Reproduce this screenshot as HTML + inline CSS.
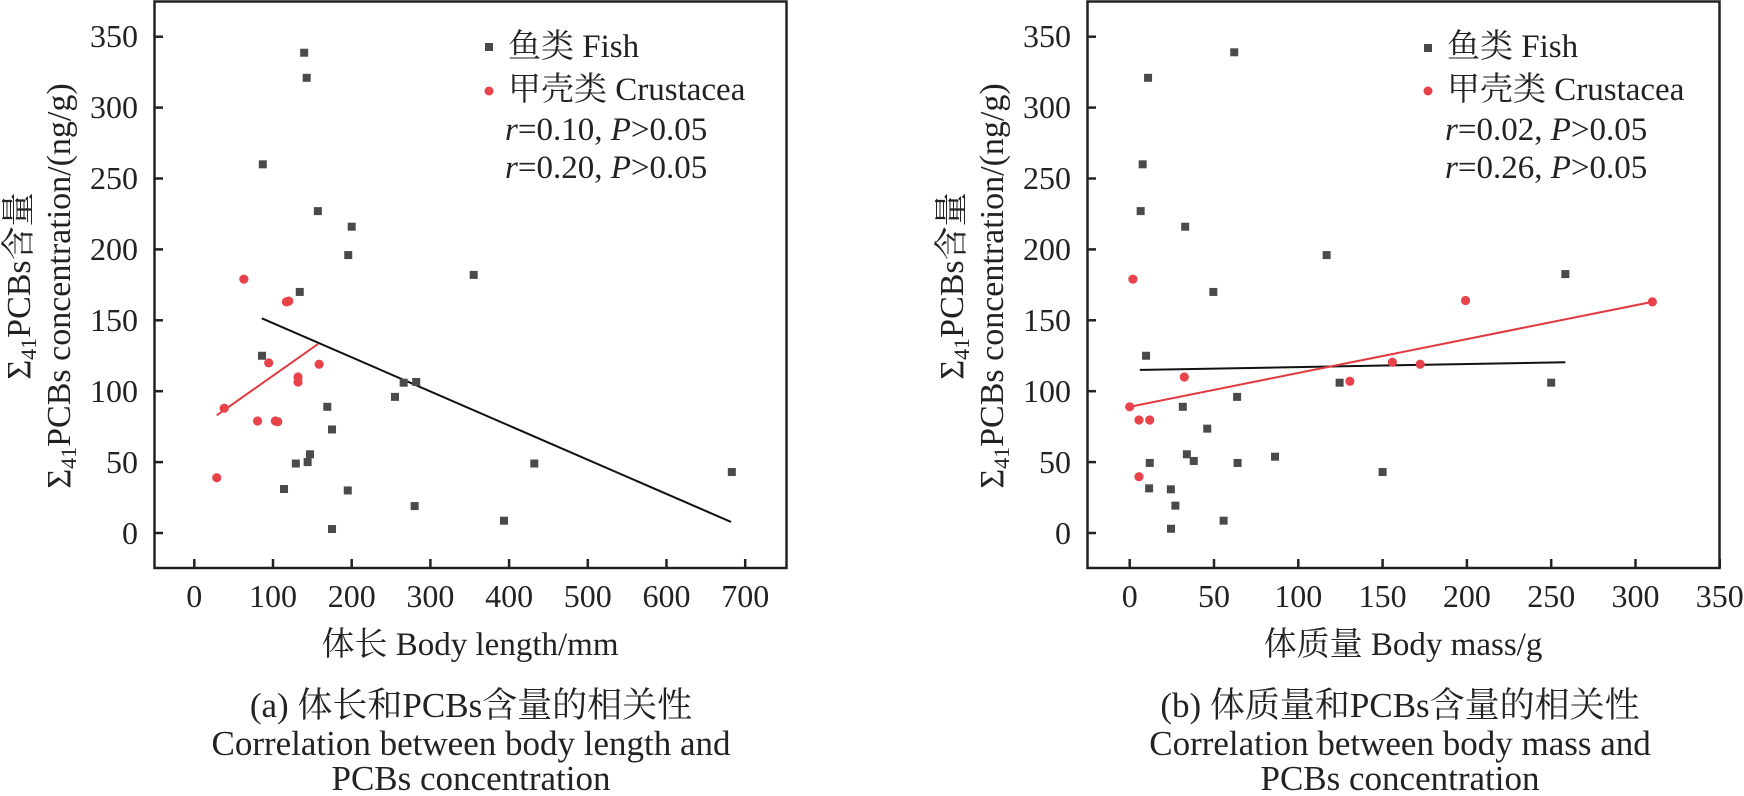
<!DOCTYPE html>
<html><head><meta charset="utf-8">
<style>
html,body{margin:0;padding:0;background:#fff;}
svg{display:block;}
svg text{font-family:"Liberation Serif","Noto Serif CJK SC","Noto Sans CJK JP",serif !important;fill:#222;}
</style></head>
<body>
<svg id="s" width="1744" height="796" viewBox="0 0 1744 796" xmlns="http://www.w3.org/2000/svg" font-family="'Liberation Serif','Noto Serif CJK SC',serif">
<rect width="1744" height="796" fill="#fff"/>
<rect x="154.5" y="1.5" width="632" height="566.5" fill="none" stroke="#222" stroke-width="2.5"/>
<rect x="1087.5" y="1.5" width="632" height="566.5" fill="none" stroke="#222" stroke-width="2.5"/>
<g id="ticks" stroke="#222" stroke-width="2.5"></g>
<g font-size="32" text-anchor="end">
<text x="138" y="47">350</text><text x="138" y="118">300</text><text x="138" y="189">250</text><text x="138" y="260">200</text><text x="138" y="331">150</text><text x="138" y="402">100</text><text x="138" y="473">50</text><text x="138" y="544">0</text>
<text x="1071" y="47">350</text><text x="1071" y="118">300</text><text x="1071" y="189">250</text><text x="1071" y="260">200</text><text x="1071" y="331">150</text><text x="1071" y="402">100</text><text x="1071" y="473">50</text><text x="1071" y="544">0</text>
</g>
<g font-size="32" text-anchor="middle">
<text x="194.3" y="607">0</text><text x="273" y="607">100</text><text x="351.7" y="607">200</text><text x="430.4" y="607">300</text><text x="509.1" y="607">400</text><text x="587.8" y="607">500</text><text x="666.5" y="607">600</text><text x="745.2" y="607">700</text>
<text x="1129.7" y="607">0</text><text x="1214" y="607">50</text><text x="1298.3" y="607">100</text><text x="1382.6" y="607">150</text><text x="1466.9" y="607">200</text><text x="1551.2" y="607">250</text><text x="1635.5" y="607">300</text><text x="1719.8" y="607">350</text>
</g>
<g font-size="33" text-anchor="middle">
<text x="470" y="655">体长 Body length/mm</text>
<text x="1403" y="655">体质量 Body mass/g</text>
</g>
<g font-size="34" text-anchor="middle">
<text transform="translate(30,286) rotate(-90)">Σ<tspan font-size="22" dy="6">41</tspan><tspan dy="-6">PCBs含量</tspan></text>
<text transform="translate(70,286) rotate(-90)">Σ<tspan font-size="22" dy="6">41</tspan><tspan dy="-6">PCBs concentration/(ng/g)</tspan></text>
<text transform="translate(963,286) rotate(-90)">Σ<tspan font-size="22" dy="6">41</tspan><tspan dy="-6">PCBs含量</tspan></text>
<text transform="translate(1003,286) rotate(-90)">Σ<tspan font-size="22" dy="6">41</tspan><tspan dy="-6">PCBs concentration/(ng/g)</tspan></text>
</g>
<g font-size="35" text-anchor="middle">
<text x="471" y="717">(a) 体长和PCBs含量的相关性</text>
<text x="471" y="755">Correlation between body length and</text>
<text x="471" y="790">PCBs concentration</text>
<text x="1400" y="717">(b) 体质量和PCBs含量的相关性</text>
<text x="1400" y="755">Correlation between body mass and</text>
<text x="1400" y="790">PCBs concentration</text>
</g>
<g font-size="33">
<rect x="485" y="43" width="8" height="8" fill="#4a4a4a"/>
<circle cx="489" cy="91" r="4.5" fill="#e8434a"/>
<text x="508" y="57">鱼类 Fish</text>
<text x="508" y="100">甲壳类 Crustacea</text>
<text x="505" y="140"><tspan font-style="italic">r</tspan>=0.10, <tspan font-style="italic">P</tspan>&gt;0.05</text>
<text x="505" y="178"><tspan font-style="italic">r</tspan>=0.20, <tspan font-style="italic">P</tspan>&gt;0.05</text>
<rect x="1424" y="44" width="8" height="8" fill="#4a4a4a"/>
<circle cx="1428" cy="91" r="4.5" fill="#e8434a"/>
<text x="1447" y="57">鱼类 Fish</text>
<text x="1447" y="100">甲壳类 Crustacea</text>
<text x="1445" y="140"><tspan font-style="italic">r</tspan>=0.02, <tspan font-style="italic">P</tspan>&gt;0.05</text>
<text x="1445" y="178"><tspan font-style="italic">r</tspan>=0.26, <tspan font-style="italic">P</tspan>&gt;0.05</text>
</g>
<g id="data"></g>
</svg>
<script>
(function(){
var NS="http://www.w3.org/2000/svg";
function el(p,n,a){var e=document.createElementNS(NS,n);for(var k in a)e.setAttribute(k,a[k]);p.appendChild(e);return e;}
var tk=document.getElementById('ticks');
for(var i=0;i<=7;i++){var y=533-1.418*50*i;
 el(tk,'line',{x1:154.5,x2:163,y1:y,y2:y});el(tk,'line',{x1:1087.5,x2:1096,y1:y,y2:y});
 var x=194.3+78.7*i;el(tk,'line',{x1:x,x2:x,y1:568,y2:559});
 var x2=1129.7+84.3*i;el(tk,'line',{x1:x2,x2:x2,y1:568,y2:559});}
var d=document.getElementById('data');
function L(x,y){return [194.3+0.787*x,533-1.418*y];}
function R(x,y){return [1129.7+1.686*x,533-1.418*y];}
var fishL=[[139.6,338.7],[142.8,321],[87,260],[157,227],[200,216],[195.6,196],[355,182],[134,170],[86,125],[266,106],[282,106.5],[255,96],[169,89],[175,73],[147,55.5],[144,50],[129,49],[432,49],[683,43],[114,31],[195,30],[280,19],[393.5,8.7],[175,2.8]];
var crL=[[63,179],[117,163],[120,163.5],[94.5,120],[158.6,119],[131.8,110],[131.8,106.5],[38,88],[80.4,79],[103,79],[106,78.5],[28.5,39]];
var fishR=[[62,339],[10.9,321],[7.7,260],[6.5,227],[32.9,216],[116.8,196],[258.4,182.6],[49.6,170],[9.7,125],[124.5,106],[250,106],[63.7,96],[31.5,89],[46,73.6],[33.9,55.5],[38,50.8],[11.9,49.4],[64,49.4],[86.2,53.8],[150,43],[11.5,31.5],[24.4,30.8],[27.1,19.3],[55.7,8.7],[24.5,3]];
var crR=[[1.9,179],[199.2,164],[310,163],[155.8,120.4],[172.3,119],[32.4,110],[130.6,107],[0,89],[5.5,79.7],[11.9,79.7],[5.5,39.7]];
function line(f,a,b,c){var p=f(a[0],a[1]),q=f(b[0],b[1]);el(d,'line',{x1:p[0],y1:p[1],x2:q[0],y2:q[1],stroke:c,'stroke-width':2});}
line(L,[85.8,151.4],[682,7.8],'#111');
line(L,[28.5,83],[157.3,133.3],'#e03a40');
line(R,[6,115],[258.4,120.4],'#111');
line(R,[0,89],[310,163],'#e03a40');
function sq(f,a){a.forEach(function(v){var p=f(v[0],v[1]);el(d,'rect',{x:p[0]-4,y:p[1]-4,width:8,height:8,fill:'#4a4a4a'});});}
function ci(f,a){a.forEach(function(v){var p=f(v[0],v[1]);el(d,'circle',{cx:p[0],cy:p[1],r:4.6,fill:'#e8434a'});});}
sq(L,fishL);ci(L,crL);sq(R,fishR);ci(R,crR);
})();
</script>
</body></html>
